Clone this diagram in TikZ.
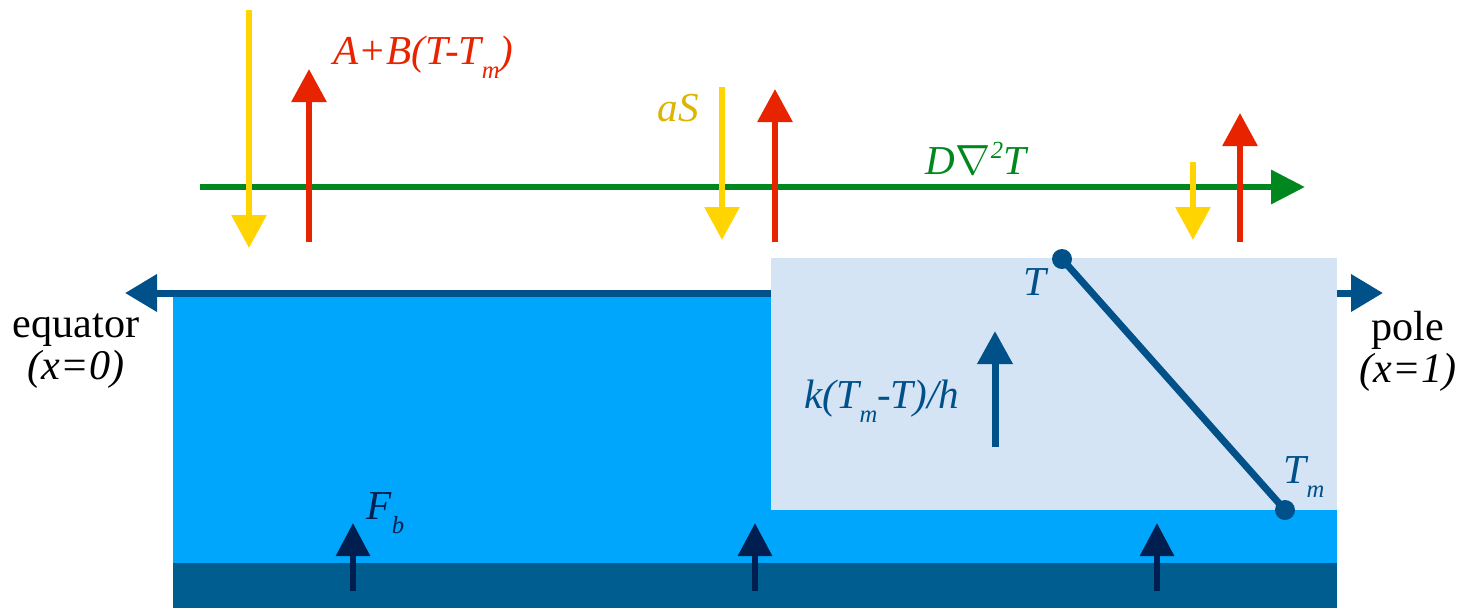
\documentclass[tikz,border=0pt]{standalone}
\usepackage{fontspec}
\setmainfont{Liberation Serif}
\usepackage{xcolor}
\usetikzlibrary{arrows.meta}
\definecolor{ocean}{HTML}{00A6FB}
\definecolor{deep}{HTML}{005D8F}
\definecolor{iceblue}{HTML}{D4E4F5}
\definecolor{navy}{HTML}{00508A}
\definecolor{darknavy}{HTML}{001E50}
\definecolor{fluxgreen}{HTML}{00881E}
\definecolor{sunyellow}{HTML}{FFD400}
\definecolor{sungold}{HTML}{DDB400}
\definecolor{olrred}{HTML}{E82400}
\newcommand\lowsub[1]{\raisebox{-4pt}{\fontsize{7}{7}\selectfont #1}}
\newcommand\highsup[1]{\raisebox{4.5pt}{\fontsize{7}{7}\selectfont #1}}
\tikzset{
  lbl/.style={inner sep=0pt,font=\fontsize{11.7}{12}\selectfont\itshape},
  sidelbl/.style={inner sep=0pt,align=center,font=\fontsize{12}{12}\selectfont},
  sunarr/.style={-{Triangle[length=3.3mm,width=3.4mm]},line width=0.6mm,
                 draw=sunyellow},
  olrarr/.style={-{Triangle[length=3.3mm,width=3.4mm]},line width=0.6mm,
                 draw=olrred},
  transarr/.style={-{Triangle[length=3.4mm,width=3.3mm]},line width=0.65mm,
                   draw=fluxgreen},
  axisarr/.style={{Triangle[length=3.2mm,width=3.6mm]}-{Triangle[length=3.2mm,width=3.6mm]},
                  line width=0.7mm,draw=navy},
  icearr/.style={-{Triangle[length=3.3mm,width=3.4mm]},line width=0.7mm,
                 draw=navy},
  basearr/.style={-{Triangle[length=3.3mm,width=3.3mm]},line width=0.6mm,
                  draw=darknavy}
}

\begin{document}
\begin{tikzpicture}[x=0.1mm,y=-0.1mm]
    \path[use as bounding box] (0,0) rectangle (1464,608);
    % ocean and the layer below
    \fill[ocean] (173,293) rectangle (1337,563);
    \fill[deep] (173,563) rectangle (1337,608);
    \coordinate (west) at (125,293);
    \coordinate (east) at (1383,293);
    \draw[axisarr] (west) -- (east);
    % sea ice
    \fill[iceblue] (771,258) rectangle (1337,510);
    \coordinate (Ttop) at (1062,259);
    \coordinate (Tbot) at (1285,510);
    \draw[navy,line width=0.7mm] (Ttop) -- (Tbot);
    \fill[navy] (Ttop) circle[radius=1mm];
    \fill[navy] (Tbot) circle[radius=1mm];
    \draw[icearr] (995,447) -- (995,331);
    % atmosphere
    \draw[transarr] (200,187) -- (1305,187);
    \draw[sunarr] (249,10) -- (249,248);
    \draw[olrarr] (309,242) -- (309,69);
    \draw[sunarr] (722,87) -- (722,240);
    \draw[olrarr] (775,242) -- (775,89);
    \draw[sunarr] (1193,162) -- (1193,240);
    \draw[olrarr] (1240,242) -- (1240,113);
    % basal heat flux
    \draw[basearr] (353,591) -- (353,523);
    \draw[basearr] (755,591) -- (755,523);
    \draw[basearr] (1157,591) -- (1157,523);
    % labels
    \node[sidelbl] (eq) at (76,351) {equator\\\textit{(x=0)}};
    \node[sidelbl] (pole) at (1408,351) {pole\\\textit{(x=1)}};
    \node[lbl,text=olrred,anchor=base west] (olr) at (333,64)
      {A+B(T-T\lowsub{m})};
    \node[lbl,text=sungold,anchor=base west] (sw) at (657,121) {aS};
    \node[lbl,text=fluxgreen,anchor=base] (diff) at (976,174)
      {D$\nabla$\highsup{2}T};
    \node[lbl,text=navy,anchor=base east] (tsurf) at (1047,295) {T};
    \node[lbl,text=navy,anchor=base west] (tmelt) at (1283,483)
      {T\lowsub{m}};
    \node[lbl,text=navy,anchor=base west] (cond) at (804,408)
      {k(T\lowsub{m}-T)/h};
    \node[lbl,text=darknavy,anchor=base west] (fb) at (366,519)
      {F\lowsub{b}};
\end{tikzpicture}
\end{document}
